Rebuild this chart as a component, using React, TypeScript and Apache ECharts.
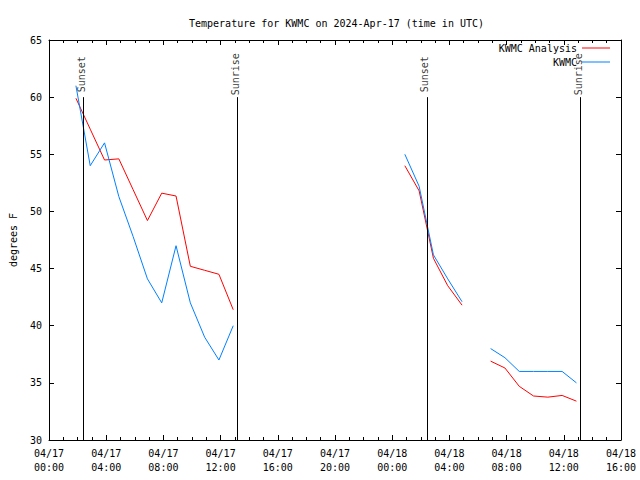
import React, { useEffect, useRef } from "react";
import * as echarts from "echarts";

const titleText = "Temperature for KWMC on 2024-Apr-17 (time in UTC)";
const yAxisName = "degrees F";

const xTickLabels = [
  "04/17\n00:00", "04/17\n04:00", "04/17\n08:00", "04/17\n12:00", "04/17\n16:00",
  "04/17\n20:00", "04/18\n00:00", "04/18\n04:00", "04/18\n08:00", "04/18\n12:00", "04/18\n16:00",
];

const obsTimes = [
  "04/17 01:53", "04/17 02:53", "04/17 03:53", "04/17 04:53", "04/17 05:53", "04/17 06:53",
  "04/17 07:53", "04/17 08:53", "04/17 09:53", "04/17 10:53", "04/17 11:53", "04/17 12:53",
  "04/17 13:53", "04/17 14:53", "04/17 15:53", "04/17 16:53", "04/17 17:53", "04/17 18:53",
  "04/17 19:53", "04/17 20:53", "04/17 21:53", "04/17 22:53", "04/17 23:53", "04/18 00:53",
  "04/18 01:53", "04/18 02:53", "04/18 03:53", "04/18 04:53", "04/18 05:53", "04/18 06:53",
  "04/18 07:53", "04/18 08:53", "04/18 09:53", "04/18 10:53", "04/18 11:53", "04/18 12:53",
];

const analysisTemps: (number | null)[] = [
  59.9, 57.2, 54.5, 54.6, 51.9, 49.2, 51.6, 51.35, 45.2, 44.85, 44.5, 41.4,
  null, null, null, null, null, null, null, null, null, null, null,
  54.0, 51.8, 45.9, 43.5, 41.8,
  null,
  36.9, 36.3, 34.7, 33.85, 33.75, 33.9, 33.4,
];

const stationTemps: (number | null)[] = [
  61.0, 54.0, 56.0, 51.3, 47.8, 44.1, 42.0, 47.0, 42.0, 39.0, 37.0, 40.0,
  null, null, null, null, null, null, null, null, null, null, null,
  55.0, 52.2, 46.2, 44.1, 42.1,
  null,
  38.0, 37.2, 36.0, 36.0, 36.0, 36.0, 35.0,
];

const sunLabels = ["Sunset", "Sunrise", "Sunset", "Sunrise"];
const sunTimes = ["04/17 02:23", "04/17 13:11", "04/18 02:25", "04/18 13:09"];
const sunLineTop = 60;
const sunLabelAt = 62;

const FONT = "'DejaVu Sans Mono', 'Liberation Mono', monospace";

function toHours(s: string): number {
  const day = parseInt(s.slice(3, 5), 10) - 17;
  const h = parseInt(s.slice(6, 8), 10);
  const m = parseInt(s.slice(9, 11), 10);
  return day * 24 + h + m / 60;
}

export default function App() {
  const ref = useRef<HTMLDivElement>(null);

  useEffect(() => {
    if (!ref.current) return;
    const chart = echarts.init(ref.current, undefined, { renderer: "svg" });
    const hrs = obsTimes.map(toHours);
    const analysis = hrs.map((h, i) => [h, analysisTemps[i] === null ? "-" : analysisTemps[i]]);
    const station = hrs.map((h, i) => [h, stationTemps[i] === null ? "-" : stationTemps[i]]);
    const sunHrs = sunTimes.map(toHours);

    const axisCommon = {
      axisLine: { show: true, onZero: false, lineStyle: { color: "#000", width: 1 } },
      splitLine: { show: false },
    };

    const option: any = {
      animation: false,
      backgroundColor: "#fff",
      title: {
        text: titleText,
        left: 184,
        top: 13,
        textStyle: { fontFamily: FONT, fontSize: 10, fontWeight: "normal", color: "#000" },
      },
      legend: {
        data: ["KWMC Analysis", "KWMC"],
        orient: "vertical",
        right: 30,
        top: 41,
        align: "right",
        icon: "rect",
        itemWidth: 28,
        itemHeight: 1,
        itemGap: 0,
        padding: 0,
        selectedMode: false,
        textStyle: {
          fontFamily: FONT,
          fontSize: 10,
          fontWeight: "normal",
          color: "#000",
          lineHeight: 14,
          textBorderWidth: 0,
          textShadowBlur: 0,
        },
      },
      grid: { left: 47, right: 19, top: 40, bottom: 40, containLabel: false },
      xAxis: [
        {
          type: "value",
          min: 0,
          max: 40,
          interval: 4,
          ...axisCommon,
          axisTick: { show: true, inside: true, length: 5, lineStyle: { color: "#000" } },
          minorTick: { show: true, splitNumber: 4, length: 3, lineStyle: { color: "#000" } },
          axisLabel: {
            fontFamily: FONT,
            fontSize: 10,
            color: "#000",
            lineHeight: 14,
            margin: 6,
            formatter: (v: number) => xTickLabels[Math.round(v / 4)] ?? "",
          },
        },
        {
          type: "value",
          position: "top",
          min: 0,
          max: 40,
          interval: 4,
          ...axisCommon,
          axisTick: { show: true, inside: true, length: 5, lineStyle: { color: "#000" } },
          minorTick: { show: true, splitNumber: 4, length: 3, lineStyle: { color: "#000" } },
          axisLabel: { show: false },
        },
      ],
      yAxis: [
        {
          type: "value",
          min: 30,
          max: 65,
          interval: 5,
          ...axisCommon,
          name: yAxisName,
          nameLocation: "middle",
          nameGap: 31,
          nameTextStyle: { fontFamily: FONT, fontSize: 10, color: "#000" },
          axisTick: { show: true, inside: true, length: 5, lineStyle: { color: "#000" } },
          axisLabel: { fontFamily: FONT, fontSize: 10, color: "#000", margin: 7 },
        },
        {
          type: "value",
          position: "right",
          min: 30,
          max: 65,
          interval: 5,
          ...axisCommon,
          axisTick: { show: true, inside: true, length: 5, lineStyle: { color: "#000" } },
          axisLabel: { show: false },
        },
      ],
      series: [
        {
          name: "KWMC Analysis",
          type: "line",
          data: analysis,
          symbol: "none",
          connectNulls: false,
          lineStyle: { color: "#ff0000", width: 1 },
          itemStyle: { color: "#ff0000" },
        },
        {
          name: "KWMC",
          type: "line",
          data: station,
          symbol: "none",
          connectNulls: false,
          lineStyle: { color: "#0080ff", width: 1 },
          itemStyle: { color: "#0080ff" },
        },
        {
          name: "sun",
          type: "scatter",
          symbolSize: 1,
          itemStyle: { color: "rgba(0,0,0,0)" },
          data: sunHrs.map((h, i) => [h, sunLabelAt, sunLabels[i]]),
          label: {
            show: true,
            position: "inside",
            rotate: 90,
            offset: [0, -2],
            fontFamily: FONT,
            fontSize: 10,
            color: "#000",
            textBorderWidth: 0,
            formatter: (p: any) => p.data[2],
          },
          markLine: {
            silent: true,
            symbol: "none",
            label: { show: false },
            lineStyle: { color: "#000", width: 1, type: "solid" },
            data: sunHrs.map((h) => [{ coord: [h, 30] }, { coord: [h, sunLineTop] }]),
          },
        },
      ],
    };
    chart.setOption(option);
    return () => chart.dispose();
  }, []);

  return <div ref={ref} style={{ width: 640, height: 480, position: "absolute", left: 0, top: 0 }} />;
}
